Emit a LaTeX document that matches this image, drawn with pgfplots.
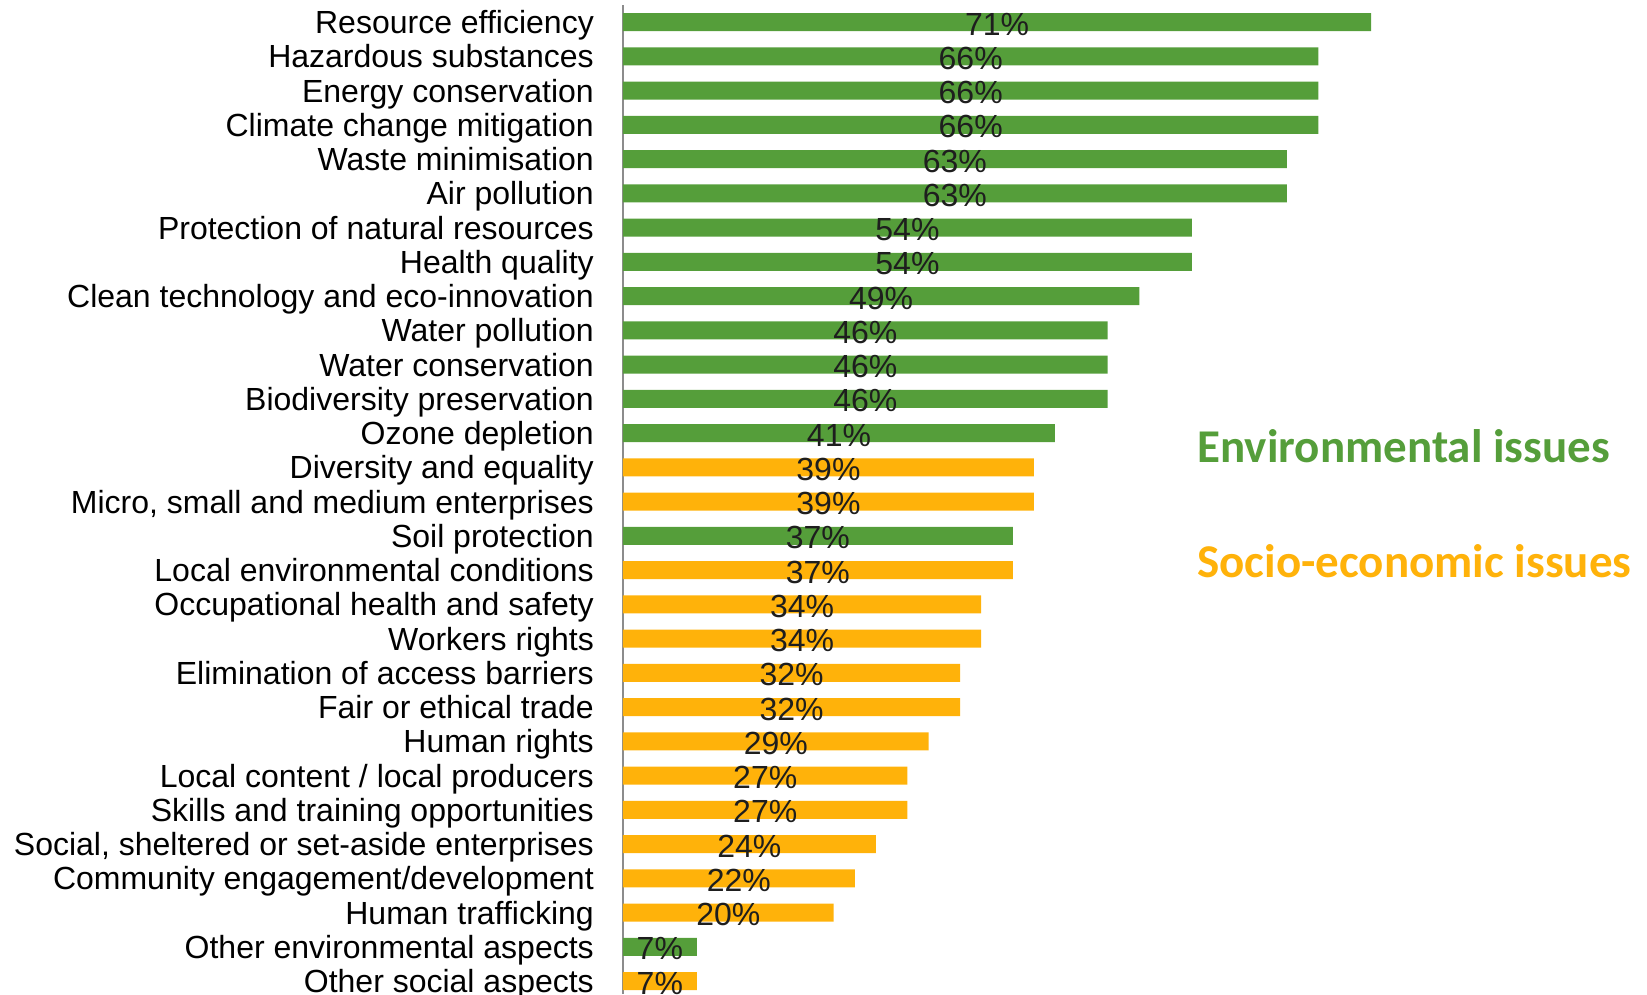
\documentclass[border=0pt]{standalone}
\usepackage{pgfplots}
\usepackage{pgfplotstable}
\usepackage{fontspec}
\pgfplotsset{compat=1.18}
\setmainfont{Liberation Sans}
\newfontfamily\calibri{Carlito}
\definecolor{envgreen}{HTML}{559E3A}
\definecolor{socorange}{HTML}{FFB20A}
\definecolor{txt}{HTML}{1E1E1E}

% y = 28 is the top row
\pgfplotstableread{
y v
28 71
27 66
26 66
25 66
24 63
23 63
22 54
21 54
20 49
19 46
18 46
17 46
16 41
13 37
1 7
}\env
\pgfplotstableread{
y v
15 39
14 39
12 37
11 34
10 34
9 32
8 32
7 29
6 27
5 27
4 24
3 22
2 20
0 7
}\soc

\begin{document}
\begin{tikzpicture}
\begin{axis}[
  at={(623pt,-5pt)}, anchor=north west,
  scale only axis,
  width=1024pt, height=989pt,
  xmin=0, xmax=97.2,
  ymin=-0.38, ymax=28.5,
  axis x line=none,
  axis y line*=left,
  y axis line style={draw=gray!90, line width=1.2pt},
  ytick={0,...,28},
  major tick length=0pt,
  yticklabels={Other social aspects, Other environmental aspects, Human trafficking,
    Community engagement/development, {Social, sheltered or set-aside enterprises},
    Skills and training opportunities, Local content / local producers, Human rights,
    Fair or ethical trade, Elimination of access barriers, Workers rights,
    Occupational health and safety, Local environmental conditions, Soil protection,
    {Micro, small and medium enterprises}, Diversity and equality, Ozone depletion,
    Biodiversity preservation, Water conservation, Water pollution,
    Clean technology and eco-innovation, Health quality, Protection of natural resources,
    Air pollution, Waste minimisation, Climate change mitigation, Energy conservation,
    Hazardous substances, Resource efficiency},
  y tick label style={font=\fontsize{32}{36}\selectfont, text=black, anchor=base east,
    inner sep=0pt, xshift=-29pt, yshift=-11.5pt},
  clip=false,
]
\addplot[xbar, bar width=18pt, bar shift=0pt, fill=envgreen, draw=none] table[x=v, y=y] {\env};
\addplot[xbar, bar width=18pt, bar shift=0pt, fill=socorange, draw=none] table[x=v, y=y] {\soc};
\addplot[draw=none, mark=none, point meta=explicit,
  nodes near coords={\pgfmathprintnumber[assume math mode=true]{\pgfplotspointmeta}\%},
  nodes near coords align={center},
  every node near coord/.append style={font=\fontsize{32}{36}\selectfont, text=txt,
    anchor=base, inner sep=0pt, yshift=-13pt}]
  table[x expr=\thisrow{v}/2, y=y, meta=v] {\env};
\addplot[draw=none, mark=none, point meta=explicit,
  nodes near coords={\pgfmathprintnumber[assume math mode=true]{\pgfplotspointmeta}\%},
  nodes near coords align={center},
  every node near coord/.append style={font=\fontsize{32}{36}\selectfont, text=txt,
    anchor=base, inner sep=0pt, yshift=-13pt}]
  table[x expr=\thisrow{v}/2, y=y, meta=v] {\soc};
\node[anchor=base west, inner sep=0pt, text=envgreen, font=\calibri\bfseries\fontsize{47}{52}\selectfont]
  at (axis cs:54.5,15.15) {Environmental issues};
\node[anchor=base west, inner sep=0pt, text=socorange, font=\calibri\bfseries\fontsize{47}{52}\selectfont]
  at (axis cs:54.5,11.77) {Socio-economic issues};
\end{axis}
\pgfresetboundingbox
\path[use as bounding box] (0,0) rectangle (1647pt,-994pt);
\end{tikzpicture}
\end{document}
